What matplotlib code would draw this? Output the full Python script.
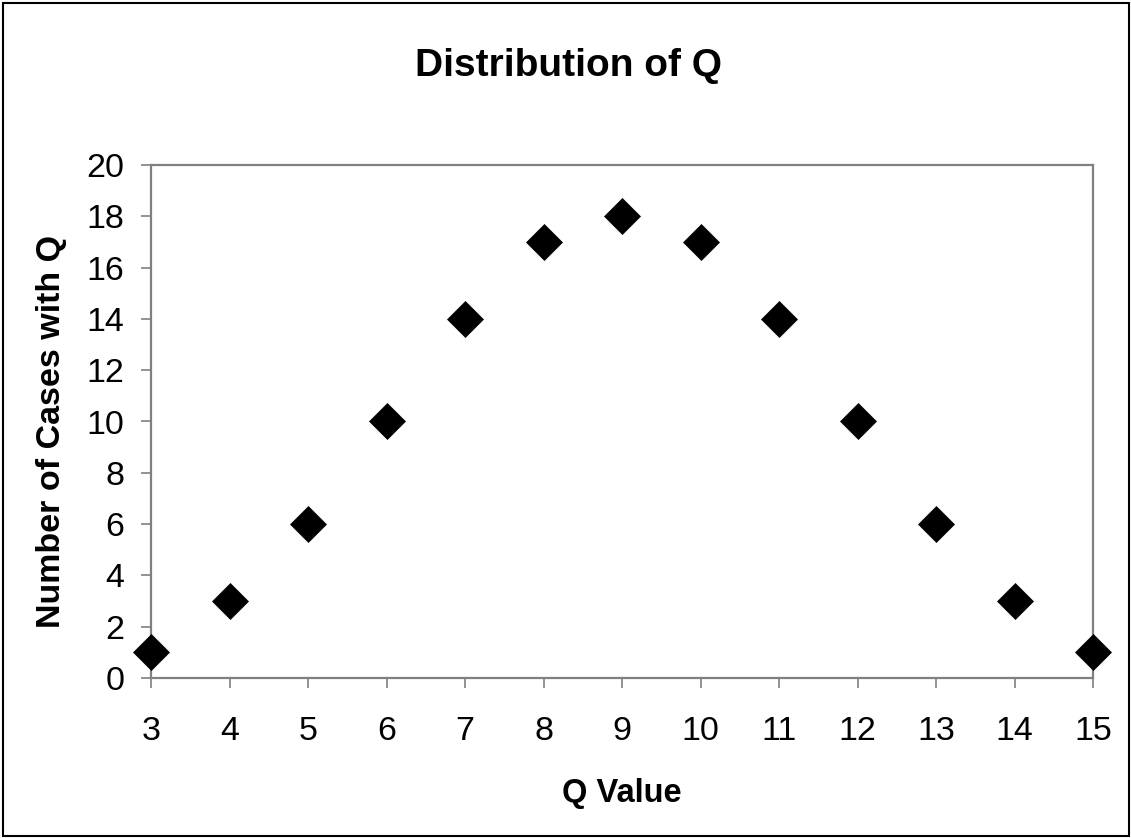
import matplotlib.pyplot as plt
from matplotlib.patches import Rectangle

# data
q_values = [3, 4, 5, 6, 7, 8, 9, 10, 11, 12, 13, 14, 15]
n_cases = [1, 3, 6, 10, 14, 17, 18, 17, 14, 10, 6, 3, 1]
x_ticks = list(range(3, 16))
y_ticks = list(range(0, 21, 2))

plt.rcParams['font.family'] = ['Liberation Sans', 'DejaVu Sans']

W, H = 1131, 838
fig = plt.figure(figsize=(W / 100, H / 100), dpi=100)
ax = fig.add_axes([151 / W, 1 - 678 / H, (1093 - 151) / W, (678 - 165) / H])

ax.plot(q_values, n_cases, linestyle='none', marker='D', markersize=18.5,
        color='black', markeredgewidth=0.5, clip_on=False, zorder=5)

ax.set_xlim(3, 15)
ax.set_ylim(0, 20)
ax.set_xticks(x_ticks)
ax.set_yticks(y_ticks)

grey = '#808080'
for s in ax.spines.values():
    s.set_color(grey)
    s.set_linewidth(1.6)
ax.tick_params(axis='both', direction='out', length=7, width=1.2, color=grey,
               labelsize=24.5)
ax.tick_params(axis='x', pad=20)
ax.tick_params(axis='y', pad=12)

fig.text(0.503, 1 - 66 / H, 'Distribution of Q', ha='center', va='center',
         fontsize=28, fontweight='bold')
fig.text(622 / W, 1 - 793 / H, 'Q Value', ha='center', va='center',
         fontsize=23.5, fontweight='bold')
fig.text(52 / W, 1 - 431 / H, 'Number of Cases with Q', ha='center', va='center',
         rotation=90, fontsize=24.5, fontweight='bold')

# outer chart border
fig.patches.append(Rectangle((3 / W, 2 / H), 1126 / W, 833 / H, transform=fig.transFigure,
                             fill=False, edgecolor='black', linewidth=1.5))

fig.savefig('out.png', dpi=100)
